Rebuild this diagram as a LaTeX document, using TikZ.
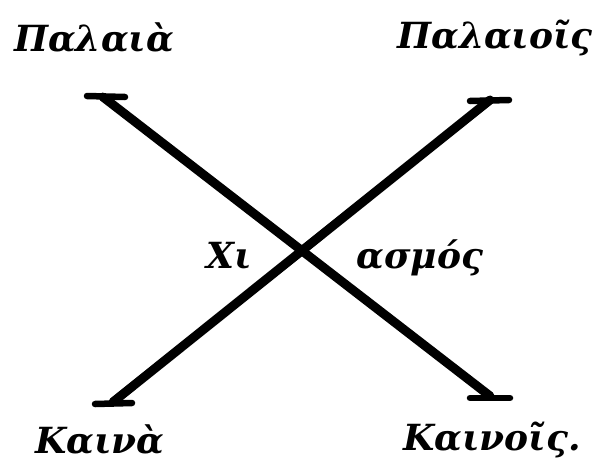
\documentclass[tikz,border=0pt]{standalone}
\usepackage{fontspec}
\setmainfont{DejaVu Serif}
\begin{document}
\begin{tikzpicture}[x=1pt,y=-1pt,
  lbl/.style={font=\fontsize{36}{42}\selectfont\bfseries\itshape, inner sep=0pt, anchor=center},
  stroke/.style={line width=9pt, line cap=round},
  bar/.style={line width=6.5pt, line cap=round}]
\useasboundingbox (0,0) rectangle (599,474);
\node[lbl] (pa) at (94,38) {Παλαιὰ};
\node[lbl] (poi) at (495,38) {Παλαιοῖς};
\node[lbl] (chi) at (229,256) {Χι};
\node[lbl] (asm) at (420,258) {ασμός};
\node[lbl] (ka) at (100,440) {Καινὰ};
\node[lbl] (koi) at (492,440) {Καινοῖς.};
\coordinate (tl) at (103,97);
\coordinate (br) at (490,396);
\coordinate (tr) at (490,100);
\coordinate (bl) at (113,402);
\draw[stroke] (tl) -- (br);
\draw[stroke] (tr) -- (bl);
\draw[bar] (87,96) -- (125,97);
\draw[bar] (470,101) -- (509,100);
\draw[bar] (95,404) -- (132,403);
\draw[bar] (470,398) -- (510,398);
\end{tikzpicture}
\end{document}
